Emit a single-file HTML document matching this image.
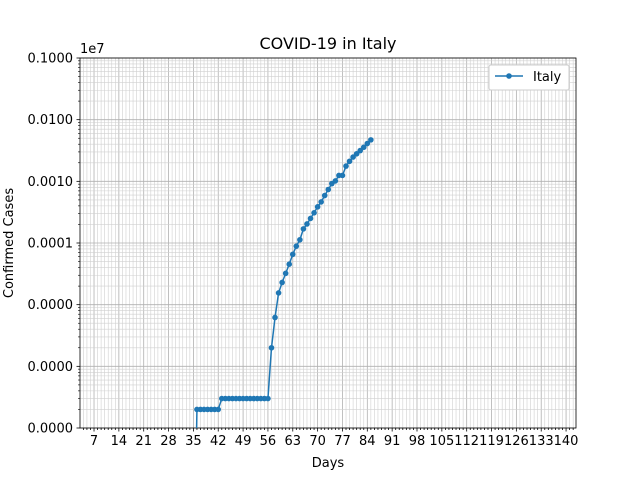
<!DOCTYPE html>
<html><head><meta charset="utf-8"><style>
html,body{margin:0;padding:0;background:#fff;overflow:hidden;width:640px;height:480px;}
svg{display:block;font-family:"DejaVu Sans","Liberation Sans",sans-serif;}
</style></head><body>
<svg id="c" width="640" height="480" xmlns="http://www.w3.org/2000/svg">
<rect width="640" height="480" fill="#fff"/>
<text x="328" y="49" text-anchor="middle" font-size="16">COVID-19 in Italy</text>
<text x="80" y="53" font-size="13">1e7</text>
<text x="328" y="467" text-anchor="middle" font-size="13">Days</text>
<text transform="translate(13,243) rotate(-90)" text-anchor="middle" font-size="13">Confirmed Cases</text>
<g id="grid"></g><g id="axes"></g><g id="series"></g>
<g>
<rect x="489" y="65" width="80" height="25" fill="#fff" stroke="#ccc" rx="2"/>
<line x1="495" y1="76" x2="523" y2="76" stroke="#1f77b4" stroke-width="1.5"/>
<circle cx="509" cy="76" r="2.8" fill="#1f77b4"/>
<text x="533" y="81" font-size="13">Italy</text>
</g>
</svg>
<script>
const days=[];for(let d=35;d<=85;d++)days.push(d);
const cases=[0,2,2,2,2,2,2,2,3,3,3,3,3,3,3,3,3,3,3,3,3,3,20,62,155,229,322,453,655,888,1128,1694,2036,2502,3089,3858,4636,5883,7375,9172,10149,12462,12462,17660,21157,24747,27980,31506,35713,41035,47021];
const xTicks=[7,14,21,28,35,42,49,56,63,70,77,84,91,98,105,112,119,126,133,140];
const yTicks=[1e6,1e5,1e4,1e3,1e2,1e1,1e0];
const yLabels=["0.1000","0.0100","0.0010","0.0001","0.0000","0.0000","0.0000"];
const L=80,R=576,T=58,B=428,xmin=3.05,xmax=142.8;
const X=v=>L+(v-xmin)/(xmax-xmin)*(R-L);
const Y=v=>B-(Math.log10(Math.max(v,1e-3))-0)/6*(B-T);
const NS="http://www.w3.org/2000/svg";
function mk(t,a,p){const e=document.createElementNS(NS,t);for(const k in a)e.setAttribute(k,a[k]);p.appendChild(e);return e;}
const g=document.getElementById('grid'),ax=document.getElementById('axes'),s=document.getElementById('series');
for(let d=4;d<=142;d++){const x=X(d);const maj=d%7==0;
 const l=mk('line',{x1:x,x2:x,y1:T,y2:B,stroke:maj?'#b0b0b0':'#d0d0d0','stroke-width':maj?0.8:0.6},g);
 
 mk('line',{x1:x,x2:x,y1:B,y2:B+(maj?3.5:2),stroke:'#000','stroke-width':0.8},ax);}
for(let e=0;e<6;e++)for(let m=2;m<10;m++){const y=Y(m*Math.pow(10,e));
 const l=mk('line',{x1:L,x2:R,y1:y,y2:y,stroke:'#d0d0d0','stroke-width':0.6},g);
 
 mk('line',{x1:L-2,x2:L,y1:y,y2:y,stroke:'#000','stroke-width':0.6},ax);}
yTicks.forEach((v,i)=>{const y=Y(v);
 const l=mk('line',{x1:L,x2:R,y1:y,y2:y,stroke:'#b0b0b0','stroke-width':0.8},g);
 
 mk('line',{x1:L-3.5,x2:L,y1:y,y2:y,stroke:'#000','stroke-width':0.8},ax);
 const t=mk('text',{x:L-7,y:y+4.5,'text-anchor':'end','font-size':13},ax);t.textContent=yLabels[i];
 });
xTicks.forEach(v=>{const t=mk('text',{x:X(v),y:B+17,'text-anchor':'middle','font-size':13},ax);t.textContent=v;
 });
const fr=mk('rect',{x:L,y:T,width:R-L,height:B-T,fill:'none',stroke:'#000','stroke-width':0.8},ax);

mk('clipPath',{id:'cp'},s).appendChild(document.createElementNS(NS,'rect'));
const cr=s.querySelector('#cp rect');cr.setAttribute('x',L);cr.setAttribute('y',T);cr.setAttribute('width',R-L);cr.setAttribute('height',B-T);
const pts=days.map((d,i)=>X(d)+','+Y(cases[i])).join(' ');
const pl=mk('polyline',{points:pts,fill:'none',stroke:'#1f77b4','stroke-width':1.5,'clip-path':'url(#cp)'},s);

days.forEach((d,i)=>{if(cases[i]<=0)return;const c=mk('circle',{cx:X(d),cy:Y(cases[i]),r:2.8,fill:'#1f77b4'},s);
 });
</script>
</body></html>
